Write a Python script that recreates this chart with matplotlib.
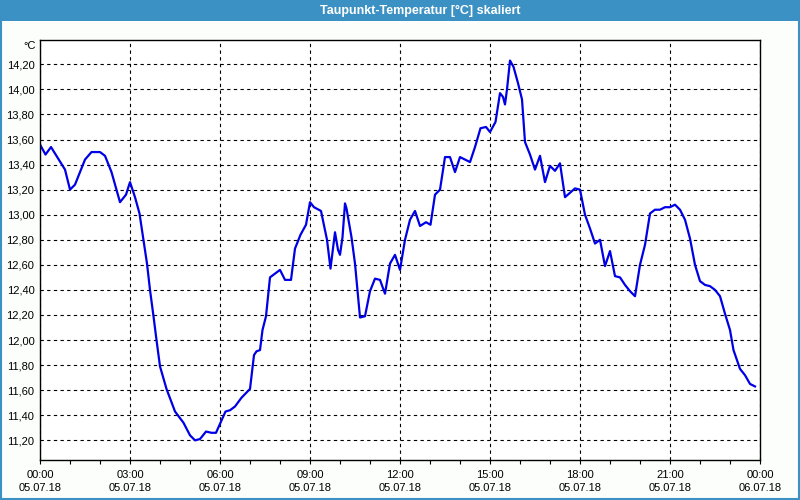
import matplotlib
matplotlib.use("Agg")
import matplotlib.pyplot as plt
import matplotlib.dates as mdates
from matplotlib.patches import Rectangle
from matplotlib.ticker import MultipleLocator, FuncFormatter
import pandas as pd

TITLE = "Taupunkt-Temperatur [°C] skaliert"
DAY = "2018-07-05"

times = [
    "00:00", "00:11", "00:22", "00:50", "01:00", "01:10", "01:30", "01:43",
    "02:00", "02:10", "02:23", "02:40", "02:52", "03:00", "03:10", "03:19",
    "03:28", "03:34", "03:40", "03:47", "03:53", "04:00", "04:13", "04:30",
    "04:47", "05:00", "05:10", "05:20", "05:32", "05:43", "05:52", "06:01",
    "06:11", "06:20", "06:30", "06:43", "07:00", "07:08", "07:13", "07:20",
    "07:25", "07:32", "07:40", "07:50", "08:00", "08:10", "08:22", "08:30",
    "08:41", "08:52", "09:00", "09:08", "09:22", "09:34", "09:41", "09:50",
    "09:56", "10:00", "10:05", "10:10", "10:13", "10:23", "10:30", "10:40",
    "10:50", "11:00", "11:10", "11:20", "11:30", "11:40", "11:50", "12:00",
    "12:10", "12:20", "12:30", "12:40", "12:52", "13:01", "13:10", "13:20",
    "13:30", "13:40", "13:50", "14:00", "14:10", "14:20", "14:30", "14:41",
    "14:52", "15:00", "15:11", "15:20", "15:26", "15:30", "15:34", "15:40",
    "15:47", "15:56", "16:04", "16:10", "16:20", "16:30", "16:40", "16:50",
    "17:00", "17:10", "17:20", "17:30", "17:50", "18:00", "18:10", "18:20",
    "18:30", "18:40", "18:50", "19:00", "19:10", "19:20", "19:30", "19:40",
    "19:50", "20:00", "20:10", "20:20", "20:30", "20:40", "20:50", "21:00",
    "21:10", "21:20", "21:30", "21:40", "21:50", "22:00", "22:10", "22:20",
    "22:30", "22:40", "22:50", "23:00", "23:07", "23:20", "23:30", "23:40",
    "23:50",
]

taupunkt = [
    13.56, 13.48, 13.54, 13.36, 13.20, 13.24, 13.44, 13.50,
    13.50, 13.47, 13.34, 13.10, 13.16, 13.26, 13.14, 13.01,
    12.77, 12.61, 12.40, 12.19, 12.00, 11.79, 11.61, 11.43,
    11.34, 11.24, 11.20, 11.21, 11.27, 11.26, 11.26, 11.34,
    11.43, 11.44, 11.47, 11.54, 11.61, 11.88, 11.91, 11.92,
    12.08, 12.19, 12.50, 12.53, 12.56, 12.48, 12.48, 12.73,
    12.84, 12.92, 13.10, 13.06, 13.03, 12.80, 12.57, 12.86,
    12.72, 12.68, 12.82, 13.09, 13.05, 12.82, 12.61, 12.18,
    12.19, 12.39, 12.49, 12.48, 12.37, 12.61, 12.68, 12.56,
    12.80, 12.96, 13.03, 12.91, 12.94, 12.92, 13.16, 13.20,
    13.46, 13.46, 13.34, 13.46, 13.44, 13.42, 13.54, 13.69,
    13.70, 13.66, 13.74, 13.97, 13.94, 13.88, 14.00, 14.23,
    14.18, 14.05, 13.92, 13.58, 13.48, 13.36, 13.47, 13.26,
    13.39, 13.35, 13.41, 13.14, 13.21, 13.20, 13.00, 12.89,
    12.77, 12.80, 12.59, 12.71, 12.51, 12.50, 12.44, 12.39,
    12.35, 12.60, 12.76, 13.01, 13.04, 13.04, 13.06, 13.06,
    13.08, 13.04, 12.96, 12.81, 12.60, 12.47, 12.44, 12.43,
    12.40, 12.35, 12.21, 12.08, 11.92, 11.77, 11.72, 11.65,
    11.63,
]

x = pd.to_datetime([DAY + " " + t for t in times])
start = pd.Timestamp(DAY)
end = start + pd.Timedelta(days=1)

plt.rcParams["font.family"] = ["Liberation Sans", "DejaVu Sans"]

fig = plt.figure(figsize=(8, 5), dpi=100)
fig.patch.set_facecolor("#fcfefc")

# window title bar + frame
blue = "#3c91c4"
fig.add_artist(Rectangle((0, 0.958), 1, 0.042, transform=fig.transFigure,
                         facecolor=blue, edgecolor="none"))
fig.add_artist(Rectangle((0.001, 0.002), 0.998, 0.996, transform=fig.transFigure,
                         facecolor="none", edgecolor=blue, linewidth=1.5))
fig.text(0.525, 0.979, TITLE, ha="center", va="center", color="white",
         fontsize=9, fontweight="bold")

ax = fig.add_axes([0.05, 0.08, 0.9, 0.84])
ax.set_facecolor("white")
ax.plot(x, taupunkt, color="#0000e6", linewidth=1.6)

ax.set_xlim(start, end)
ax.set_ylim(11.043, 14.394)

ax.xaxis.set_major_locator(mdates.HourLocator(byhour=range(0, 24, 3)))
ax.xaxis.set_minor_locator(mdates.HourLocator())
ax.xaxis.set_major_formatter(mdates.DateFormatter("%H:%M\n%d.%m.%y"))
ax.yaxis.set_major_locator(MultipleLocator(0.2))
ax.yaxis.set_major_formatter(FuncFormatter(lambda v, p: f"{v:.2f}".replace(".", ",")))

ax.grid(True, which="major", color="black", linestyle=(0, (3, 3)), linewidth=0.8)
ax.tick_params(axis="x", which="both", direction="out", length=3, width=0.8,
               labelsize=8, pad=4, colors="black")
ax.tick_params(axis="y", length=0, labelsize=8, pad=4)
for lab in ax.get_xticklabels():
    lab.set_linespacing(1.35)
for s in ax.spines.values():
    s.set_color("black")
    s.set_linewidth(1)

fig.text(0.045, 0.908, "°C", ha="right", va="center", fontsize=8)

fig.savefig("out.png", dpi=100, facecolor=fig.get_facecolor())
